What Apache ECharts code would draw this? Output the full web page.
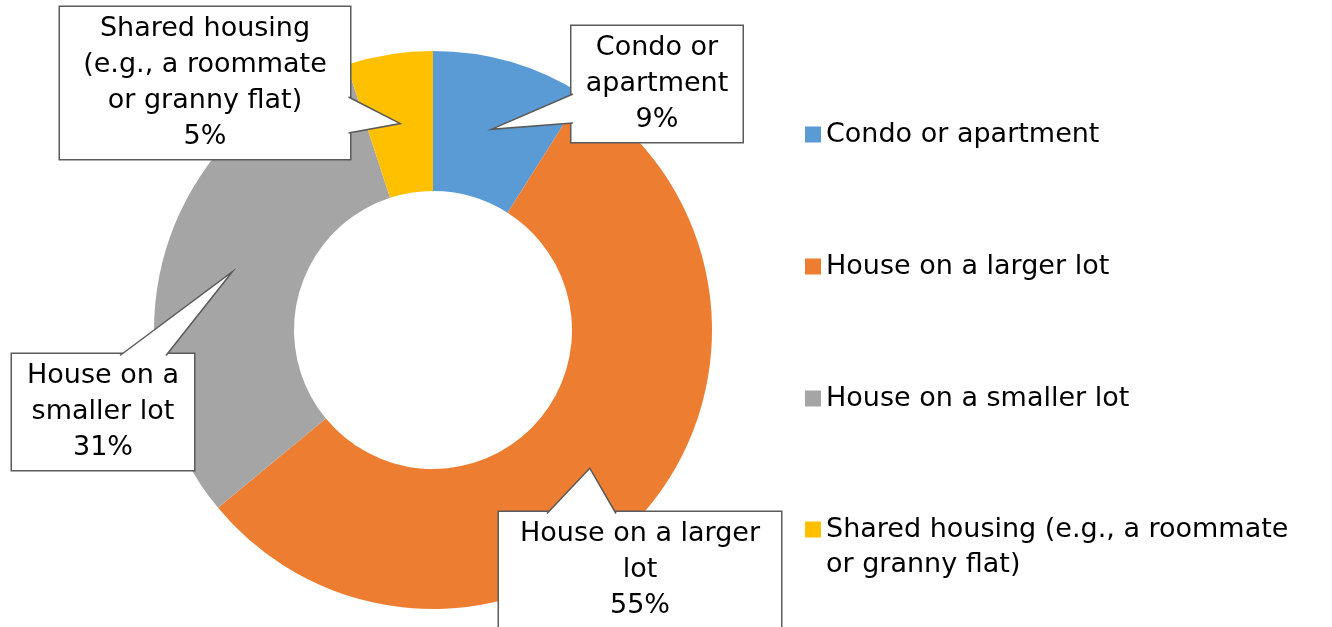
<!DOCTYPE html>
<html>
<head>
<meta charset="utf-8">
<script src="https://cdn.jsdelivr.net/npm/echarts@6/dist/echarts.min.js"></script>
<style>
  html, body { margin: 0; padding: 0; background: #fff; }
  #chart { width: 1332px; height: 627px; }
</style>
</head>
<body>
<div id="chart"></div>
<script>
const categories = [
  'Condo or apartment',
  'House on a larger lot',
  'House on a smaller lot',
  'Shared housing (e.g., a roommate or granny flat)',
];
const shares = [9, 55, 31, 5];
const calloutNames = [
  'Condo or\napartment',
  'House on a larger\nlot',
  'House on a\nsmaller lot',
  'Shared housing\n(e.g., a roommate\nor granny flat)',
];
const legendNames = [
  'Condo or apartment',
  'House on a larger lot',
  'House on a smaller lot',
  '\nShared housing (e.g., a roommate\nor granny flat)',
];
const colors = ['#5B9BD5', '#ED7D31', '#A5A5A5', '#FFC000'];

// callout boxes: centre, width, and where the pointer leaves the box
const boxes = [
  { x: 657, y: 84, w: 171, side: 'left', a: 10, b: 39 },
  { x: 640, y: 570, w: 282, side: 'top', a: -93, b: -24 },
  { x: 103, y: 412, w: 182, side: 'top', a: 17, b: 63 },
  { x: 205, y: 83, w: 290, side: 'right', a: 14, b: 50 },
];

const center = [433, 330];
const radius = [139, 279];
const font = 'DejaVu Sans';
const fontSize = 27;
const lineH = 36;
const boxPad = [7, 0, 1, 0];
const border = '#5a5a5a';

const myChart = echarts.init(document.getElementById('chart'));

const legendText = (name) => legendNames[categories.indexOf(name)];
const legendBase = {
  orient: 'vertical',
  left: 805,
  padding: 0,
  icon: 'rect',
  itemWidth: 16,
  itemHeight: 16,
  itemGap: 97,
  selectedMode: false,
  formatter: legendText,
  textStyle: { fontFamily: font, fontSize: fontSize, lineHeight: 35, color: '#000' },
};

const calloutText = (i) => calloutNames[i] + '\n' + shares[i] + '%';

const option = {
  animation: false,
  color: colors,
  legend: [
    Object.assign({}, legendBase, { top: 117, data: categories.slice(0, 3) }),
    Object.assign({}, legendBase, { top: 477, data: categories.slice(3) }),
  ],
  series: [
    {
      type: 'pie',
      center: center,
      radius: radius,
      startAngle: 90,
      clockwise: true,
      avoidLabelOverlap: false,
      data: categories.map((name, i) => ({ name: name, value: shares[i] })),
      label: {
        show: true,
        position: 'outside',
        overflow: 'none',
        formatter: (p) => calloutText(p.dataIndex),
        fontFamily: font,
        fontSize: fontSize,
        lineHeight: lineH,
        color: '#000',
        align: 'center',
        backgroundColor: '#fff',
        borderColor: border,
        borderWidth: 1.5,
        padding: boxPad,
      },
      labelLine: { show: false },
      labelLayout: (params) => {
        const bx = boxes[params.dataIndex];
        return { x: bx.x, y: bx.y, align: 'center', verticalAlign: 'middle', width: bx.w };
      },
    },
  ],
};

myChart.setOption(option);

// speech-bubble pointers: from the box edge to the middle of each ring slice
const pieData = myChart.getModel().getSeriesByIndex(0).getData();
const pointers = boxes.map((bx, i) => {
  const lay = pieData.getItemLayout(i);
  const mid = (lay.startAngle + lay.endAngle) / 2;
  const rm = (lay.r + lay.r0) / 2;
  const tip = [lay.cx + rm * Math.cos(mid), lay.cy + rm * Math.sin(mid)];
  const h = calloutText(i).split('\n').length * lineH + boxPad[0] + boxPad[2];
  const inset = 1.5;
  let b1, b2;
  if (bx.side === 'left') {
    b1 = [bx.x - bx.w / 2 + inset, bx.y + bx.a];
    b2 = [bx.x - bx.w / 2 + inset, bx.y + bx.b];
  } else if (bx.side === 'right') {
    b1 = [bx.x + bx.w / 2 - inset, bx.y + bx.a];
    b2 = [bx.x + bx.w / 2 - inset, bx.y + bx.b];
  } else {
    b1 = [bx.x + bx.a, bx.y - h / 2 + inset];
    b2 = [bx.x + bx.b, bx.y - h / 2 + inset];
  }
  return {
    type: 'polyline',
    z: 10,
    shape: { points: [b1, tip, b2] },
    style: { fill: '#fff', stroke: border, lineWidth: 1.5 },
    silent: true,
  };
});

myChart.setOption({ graphic: pointers });
</script>
</body>
</html>
